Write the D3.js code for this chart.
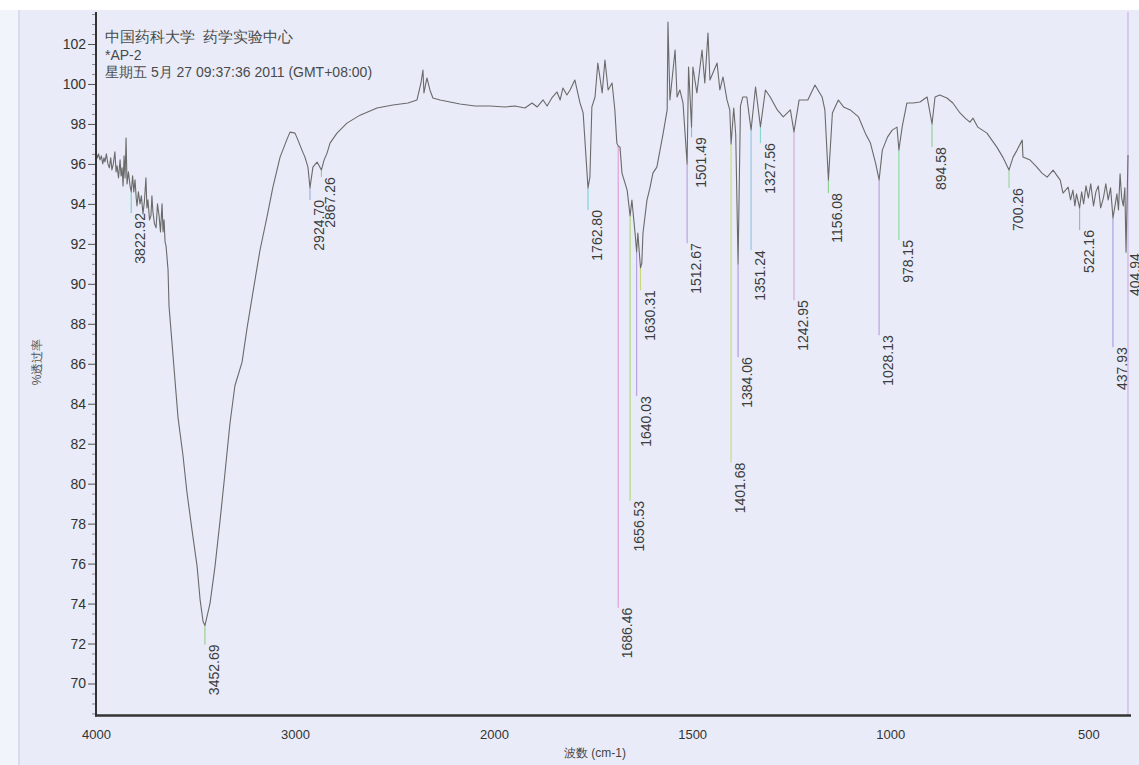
<!DOCTYPE html>
<html>
<head>
<meta charset="utf-8">
<script src="https://cdn.jsdelivr.net/npm/d3@7"></script>
<style>
  html, body { margin: 0; padding: 0; background: #ffffff; }
  svg { display: block; }
  text { font-family: "Liberation Sans", Arial, sans-serif; }
</style>
</head>
<body>
<svg id="chart" width="1139" height="765"></svg>
<script>
// ---------------- DATA ----------------
const spectrum = [
  [4000,96.6],[3993,96.3],[3987,96.5],[3980,96.2],[3973,96.4],[3966,96.0],[3960,96.3],[3955,96.1],
  [3948,96.5],[3940,96.0],[3933,95.8],[3926,96.3],[3920,95.7],[3913,96.0],[3905,96.6],[3899,95.6],
  [3894,95.9],[3887,95.3],[3879,96.2],[3874,95.4],[3869,95.8],[3864,94.9],[3859,96.4],[3854,95.3],
  [3849,97.3],[3844,95.0],[3837,95.6],[3829,94.9],[3822.92,94.6],[3816,95.4],[3810,94.6],[3804,95.2],
  [3798,94.3],[3794,93.9],[3787,94.6],[3779,94.0],[3772,94.4],[3764,93.5],[3757,94.1],[3749,95.3],
  [3744,93.8],[3739,94.2],[3731,93.2],[3724,93.4],[3719,94.4],[3714,93.6],[3706,93.0],[3698,92.8],
  [3691,94.0],[3683,93.4],[3676,92.6],[3668,94.0],[3663,92.6],[3658,93.2],[3653,92.1],[3648,91.9],
  [3643,91.3],[3638,90.7],[3633,88.88],[3618,87.03],[3603,85.17],
  [3588,83.32],[3563,81.42],[3543,79.57],[3518,77.71],[3492,75.86],[3477,74.2],[3462,73.1],[3452.69,72.9],
  [3427,74.01],[3402,75.86],[3377,78.11],[3352,80.52],[3327,83.0],[3302,84.9],[3266,86.08],[3241,87.78],
  [3211,89.6],[3176,91.68],[3141,93.34],[3111,94.84],[3075,96.34],[3040,97.24],[3025,97.59],[3000,97.54],
  [2985,97.19],[2965,96.69],[2950,96.34],[2935,95.84],[2924.70,94.8],[2910,95.84],[2889,96.09],[2867.26,95.7],
  [2854,96.19],[2839,96.54],[2824,97.04],[2789,97.54],[2739,98.04],[2673,98.44],[2588,98.8],[2508,98.95],
  [2432,99.05],[2387,99.2],[2367,100.05],[2357,100.7],[2352,99.55],[2337,100.3],[2322,99.7],[2307,99.3],
  [2271,99.2],[2221,99.1],[2171,99.0],[2095,98.9],[2020,98.9],[1972,98.85],[1947,98.9],[1922,98.8],
  [1904,99.05],[1891,98.85],[1876,99.2],[1866,98.9],[1854,99.3],[1841,99.6],[1833,99.2],[1826,99.8],
  [1816,99.45],[1808,99.7],[1796,100.2],[1783,99.05],[1775,98.55],[1762.80,94.8],[1758,95.34],[1753,98.85],
  [1745,99.35],[1738,101.05],[1727,99.55],[1720,101.2],[1712,99.7],[1702,100.05],[1695,98.7],[1690,97.04],
  [1686.46,96.9],[1682,96.84],[1677,95.54],[1664,94.69],[1656.53,93.4],[1652,94.19],[1644,92.54],[1640.03,91.6],
  [1637,92.54],[1630.31,90.8],[1627,91.03],[1624,92.54],[1614,94.19],[1606,94.84],[1599,95.54],[1589,95.84],
  [1573,97.54],[1563,98.7],[1561,103.1],[1556,99.2],[1543,101.7],[1538,99.35],[1531,99.7],[1523,99.05],
  [1512.67,96.0],[1509,100.85],[1501.49,97.85],[1498,100.85],[1488,99.55],[1475,101.7],[1468,100.05],[1460,102.55],
  [1455,100.2],[1437,101.05],[1430,99.7],[1422,100.35],[1412,99.2],[1405,98.7],[1401.68,97.0],[1395,98.8],
  [1390,97.5],[1384.06,91.0],[1378,98.9],[1372,99.35],[1362,99.35],[1351.24,97.7],[1340,99.85],[1327.56,97.85],
  [1315,99.7],[1303,99.35],[1285,98.7],[1270,98.35],[1252,98.7],[1242.95,97.6],[1230,99.2],[1208,99.2],
  [1190,99.95],[1172,99.35],[1165,98.7],[1156.08,95.2],[1146,98.55],[1131,99.2],[1118,98.85],[1101,98.7],
  [1080,98.35],[1063,97.54],[1050,97.04],[1037,96.04],[1028.13,95.2],[1020,96.69],[1007,97.34],[995,97.69],
  [983,97.84],[978.15,96.7],[970,97.84],[958,99.05],[942,99.05],[925,99.1],[907,99.35],[894.58,98.0],
  [887,99.35],[875,99.45],[857,99.3],[842,99.05],[824,98.55],[811,98.29],[799,98.09],[791,98.29],
  [779,97.84],[756,97.54],[731,96.84],[716,96.34],[700.26,95.7],[690,96.34],[680,96.69],[667,97.19],
  [665,96.34],[647,96.19],[630,95.84],[617,95.54],[604,95.34],[589,95.69],[571,95.19],[564,94.54],
  [551,94.84],[545,94.2],[539,94.69],[534,93.9],[530,94.5],[522.16,93.8],[517,94.6],[512,94.0],
  [506,94.9],[500,94.3],[494,95.0],[487,93.9],[481,94.6],[475,94.9],[469,93.8],[462,94.3],
  [456,95.0],[450,94.2],[444,94.8],[437.93,93.3],[432,94.0],[428,94.5],[424,93.7],[420,95.5],
  [416,94.3],[412,93.9],[408,94.8],[404.94,91.6],[400,96.44]
];

const peakWn  = [3822.92,3452.69,2924.70,2867.26,1762.80,1686.46,1656.53,1640.03,1630.31,1512.67,1501.49,1401.68,
                 1384.06,1351.24,1327.56,1242.95,1156.08,1028.13,978.15,894.58,700.26,522.16,437.93,404.94];
const peakT   = [94.6,72.9,94.8,95.7,94.8,96.9,93.4,91.6,90.8,96.0,97.85,97.0,
                 91.0,97.7,97.85,97.6,95.2,95.2,96.7,98.0,95.7,93.8,93.3,91.6];
const labelT  = [93.54,71.95,94.19,95.34,93.69,73.79,79.14,84.38,89.68,92.03,97.34,81.05,
                 86.33,91.68,97.04,89.18,94.54,87.43,92.19,96.84,94.79,92.69,86.83,91.53];
const peakColors = ["#80d0c8","#9ad08a","#a0b0e0","#9ad08a","#7fd3d8","#e0a0d8","#b0d880","#b8a0e0",
                    "#c8d878","#c0a0e0","#90b8e8","#c8dc80","#b898e0","#90c8e0","#88d8d0","#d8a8dc",
                    "#90d090","#c0a0e0","#90d8a0","#98d0a0","#a0d898","#a8b0b8","#a8a0e0","#a0d0a0"];

const xTicks = [4000,3000,2000,1500,1000,500];
const yTicks = [70,72,74,76,78,80,82,84,86,88,90,92,94,96,98,100,102,104];
const headerLines = ["中国药科大学  药学实验中心","*AP-2","星期五 5月 27 09:37:36 2011 (GMT+08:00)"];
const xTitle = "波数 (cm-1)";
const yTitle = "%透过率";

// ---------------- DRAW ----------------
const svg = d3.select("#chart");
const W = 1139, H = 765;

// paper background
svg.append("rect").attr("x",0).attr("y",0).attr("width",W).attr("height",H).attr("fill","#e9ecf8");
svg.append("rect").attr("x",0).attr("y",0).attr("width",18).attr("height",H).attr("fill","#f2f4fb");
svg.append("line").attr("x1",19).attr("x2",19).attr("y1",0).attr("y2",H)
   .attr("stroke","#d3d7ec").attr("stroke-width",1.5);

const x = d3.scaleLinear().domain([4000,2000,400]).range([96,494,1128]);
const y = d3.scaleLinear().domain([102,70]).range([44,683.5]);
const yTop = y(103.6), yBot = y(68.4);

// right boundary line
svg.append("line").attr("x1",x(400)).attr("x2",x(400)).attr("y1",yTop).attr("y2",yBot)
   .attr("stroke","#cdb0e6").attr("stroke-width",1.2);

// peak marker lines
const g = svg.append("g");
peakWn.forEach((w,i) => {
  g.append("line")
    .attr("x1",x(w)).attr("x2",x(w))
    .attr("y1",y(peakT[i])).attr("y2",y(labelT[i]))
    .attr("stroke",peakColors[i]).attr("stroke-width",1.2);
});

// spectrum
const line = d3.line().x(d => x(d[0])).y(d => y(d[1]));
svg.append("path").datum(spectrum).attr("d",line)
   .attr("fill","none").attr("stroke","#6a6a6a").attr("stroke-width",1.1)
   .attr("stroke-linejoin","round");

// peak labels
peakWn.forEach((w,i) => {
  svg.append("text")
    .attr("transform",`translate(${x(w)+9},${y(labelT[i])}) rotate(-90)`)
    .attr("text-anchor","end")
    .attr("dy","0.36em")
    .attr("font-size",14)
    .attr("fill","#3c3c3c")
    .text(w.toFixed(2));
});

// y axis
const yAxis = d3.axisLeft(y).tickValues(yTicks).tickSize(8).tickPadding(2).tickFormat(d3.format("d"));
const ya = svg.append("g").attr("transform","translate(96,0)").call(yAxis);
ya.select(".domain").remove();
ya.selectAll(".tick line").attr("stroke","#555").attr("stroke-width",1);
ya.selectAll(".tick text").attr("font-size",14).attr("fill","#333")
  .attr("font-family","'Liberation Sans', Arial, sans-serif");
const minor = d3.range(68.5,104,0.5).filter(v => v % 2 !== 0);
const ym = svg.append("g").attr("transform","translate(96,0)")
  .call(d3.axisLeft(y).tickValues(minor).tickSize(4).tickFormat(""));
ym.select(".domain").remove();
ym.selectAll(".tick line").attr("stroke","#777").attr("stroke-width",0.8);
svg.append("line").attr("x1",96).attr("x2",96).attr("y1",yTop).attr("y2",yBot+1)
   .attr("stroke","#333").attr("stroke-width",2);

// x axis
const xAxis = d3.axisBottom(x).tickValues(xTicks).tickSize(0).tickPadding(14).tickFormat(d3.format("d"));
const xa = svg.append("g").attr("transform",`translate(0,${yBot})`).call(xAxis);
xa.select(".domain").remove();
xa.selectAll(".tick text").attr("font-size",13).attr("fill","#333")
  .attr("font-family","'Liberation Sans', Arial, sans-serif");
svg.append("line").attr("x1",95).attr("x2",1131).attr("y1",yBot).attr("y2",yBot)
   .attr("stroke","#333").attr("stroke-width",2.5);

// titles
svg.append("text").attr("x",595).attr("y",757).attr("text-anchor","middle")
   .attr("font-size",12).attr("fill","#444")
   .attr("font-family","'Noto Sans CJK SC','Liberation Sans',sans-serif").text(xTitle);
svg.append("text").attr("transform","translate(41,362) rotate(-90)").attr("text-anchor","middle")
   .attr("font-size",12).attr("fill","#555")
   .attr("font-family","'Noto Sans CJK SC','Liberation Sans',sans-serif").text(yTitle);

// header
const hy = [42,60,77];
headerLines.forEach((t,i) => {
  svg.append("text").attr("x",105).attr("y",hy[i])
    .attr("font-size", i === 0 ? 14.5 : 14)
    .attr("fill","#4a4a4a")
    .attr("xml:space","preserve").style("white-space","pre")
    .attr("font-family","'Liberation Sans','Noto Sans CJK SC',sans-serif")
    .text(t);
});

// cropped top edge of the scan
svg.append("rect").attr("x",0).attr("y",0).attr("width",W).attr("height",10).attr("fill","#ffffff");
</script>
</body>
</html>
